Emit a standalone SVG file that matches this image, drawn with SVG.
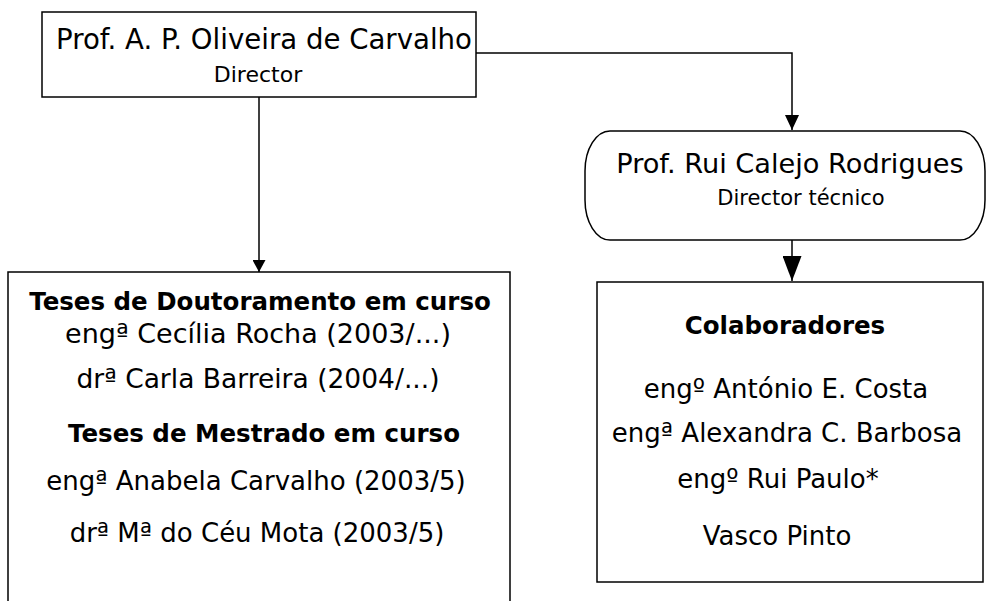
<svg xmlns="http://www.w3.org/2000/svg" width="986" height="601" viewBox="0 0 986 601">
<defs>
<style>
.box{fill:#fff;stroke:#000;stroke-width:1.5}
.con{fill:none;stroke:#000;stroke-width:1.5}
text{font-family:"DejaVu Sans",Verdana,sans-serif;fill:#000;text-anchor:middle}
.big{font-size:26px}
.sm{font-size:21px}
.b{font-size:24.5px;font-weight:bold}
</style>
<marker id="a1" markerUnits="userSpaceOnUse" markerWidth="16" markerHeight="14" refX="15" refY="7" orient="auto"><path d="M0,0 L15,7 L0,14 Z" fill="#000"/></marker>
<marker id="a2" markerUnits="userSpaceOnUse" markerWidth="13" markerHeight="13" refX="12" refY="6.5" orient="auto"><path d="M0,0 L12,6.5 L0,13 Z" fill="#000"/></marker>
<marker id="a3" markerUnits="userSpaceOnUse" markerWidth="26" markerHeight="19" refX="25" refY="9.5" orient="auto"><path d="M0,0 L25,9.5 L0,19 Z" fill="#000"/></marker>
</defs>
<rect width="986" height="601" fill="#fff"/>
<g id="connectors">
<path class="con" d="M476,53 H792 V130" marker-end="url(#a1)"/>
<path class="con" d="M259,97 V272" marker-end="url(#a2)"/>
<path class="con" d="M792,240 V281" marker-end="url(#a3)"/>
</g>
<g id="director">
<rect class="box" x="42" y="12" width="434" height="85"/>
<text class="big" x="264" y="49" style="font-size:27.6px">Prof. A. P. Oliveira de Carvalho</text>
<text class="sm" x="258" y="82" style="font-size:22px">Director</text>
</g>
<g id="director-tecnico">
<rect class="box" x="585" y="131" width="400" height="109" rx="25" ry="40"/>
<text class="big" x="790" y="173" style="font-size:27.2px">Prof. Rui Calejo Rodrigues</text>
<text class="sm" x="801" y="205">Director técnico</text>
</g>
<g id="teses">
<rect class="box" x="8" y="272" width="502" height="345"/>
<text class="b" x="260" y="310">Teses de Doutoramento em curso</text>
<text class="big" x="258" y="343" style="font-size:27px">engª Cecília Rocha (2003/...)</text>
<text class="big" x="258" y="388" style="font-size:26.5px">drª Carla Barreira (2004/...)</text>
<text class="b" x="264" y="442">Teses de Mestrado em curso</text>
<text class="big" x="256" y="490">engª Anabela Carvalho (2003/5)</text>
<text class="big" x="257" y="542">drª Mª do Céu Mota (2003/5)</text>
</g>
<g id="colaboradores">
<rect class="box" x="597" y="282" width="386" height="300"/>
<text class="b" x="785" y="334">Colaboradores</text>
<text class="big" x="786" y="398">engº António E. Costa</text>
<text class="big" x="787" y="442">engª Alexandra C. Barbosa</text>
<text class="big" x="778" y="488">engº Rui Paulo*</text>
<text class="big" x="777" y="545">Vasco Pinto</text>
</g>
</svg>
